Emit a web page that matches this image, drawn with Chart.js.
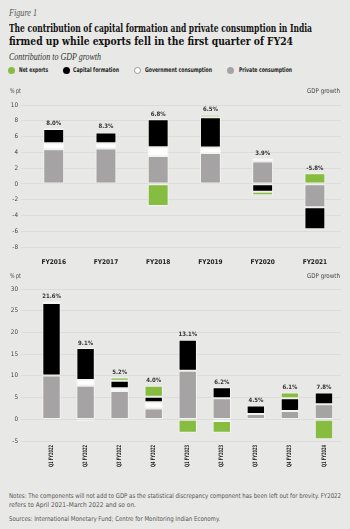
<!DOCTYPE html>
<html>
<head>
<meta charset="utf-8">
<script src="https://cdn.jsdelivr.net/npm/chart.js@4.4.0/dist/chart.umd.min.js"></script>
<style>
  html, body { margin: 0; padding: 0; }
  body {
    width: 350px; height: 529px; overflow: hidden; position: relative;
    background: #e8e8e6; color: #111;
    font-family: "DejaVu Sans Condensed", "DejaVu Sans", sans-serif;
  }
  .abs { position: absolute; white-space: nowrap; transform-origin: 0 50%; }
  .fig { left: 9px; top: 7px; font: italic 9.5px/12px "Liberation Serif", serif; color: #555; }
  .title { left: 9px; font: bold 11px/13px "DejaVu Serif Condensed", "DejaVu Serif", serif; color: #111; }
  .sub { left: 9px; top: 51px; font: italic 9.5px/12px "Liberation Serif", serif; color: #333; }
  .legend { top: 66px; font-size: 6.5px; font-weight: bold; color: #222; line-height: 8px; }
  .dot { position: absolute; top: 66.5px; width: 7px; height: 7px; border-radius: 50%; box-sizing: border-box; }
  .unit { font-size: 6.5px; color: #444; line-height: 8px; }
  .notes { left: 9px; font-size: 6.5px; color: #555; line-height: 8px; }
  canvas { position: absolute; left: 0; }
</style>
</head>
<body>
<div class="abs fig" data-w="28">Figure 1</div>
<div class="abs title" style="top:22px" data-w="303">The contribution of capital formation and private consumption in India</div>
<div class="abs title" style="top:35px" data-w="284">firmed up while exports fell in the first quarter of FY24</div>
<div class="abs sub" data-w="92">Contribution to GDP growth</div>

<div class="dot" style="left:7.5px;background:#86bc40"></div>
<div class="abs legend" style="left:19px" data-w="29">Net exports</div>
<div class="dot" style="left:62.5px;background:#000"></div>
<div class="abs legend" style="left:73px" data-w="46">Capital formation</div>
<div class="dot" style="left:134px;background:#fff;border:1px solid #999"></div>
<div class="abs legend" style="left:145px" data-w="67">Government consumption</div>
<div class="dot" style="left:227px;background:#a5a3a3"></div>
<div class="abs legend" style="left:239px" data-w="53">Private consumption</div>

<canvas id="annualChart" style="top:85px" width="350" height="180"></canvas>
<div class="abs unit" style="left:10px;top:87px" data-w="11">% pt</div>
<div class="abs unit" style="left:307px;top:87px" data-w="33">GDP growth</div>

<canvas id="quarterChart" style="top:268px" width="350" height="213"></canvas>
<div class="abs unit" style="left:10px;top:272px" data-w="11">% pt</div>
<div class="abs unit" style="left:307px;top:272px" data-w="33">GDP growth</div>

<div class="abs notes" style="top:492px" data-w="332">Notes: The components will not add to GDP as the statistical discrepancy component has been left out for brevity. FY2022</div>
<div class="abs notes" style="top:501px" data-w="127">refers to April 2021–March 2022 and so on.</div>
<div class="abs notes" style="top:515px" data-w="211">Sources: International Monetary Fund; Centre for Monitoring Indian Economy.</div>

<script>
const annualLabels = ["FY2016", "FY2017", "FY2018", "FY2019", "FY2020", "FY2021"];
const annualPrivate = [4.4, 4.5, 3.55, 3.9, 2.85, -2.95];
const annualGovt = [0.75, 0.65, 1.1, 0.7, 0.4, 0];
const annualCapital = [1.8, 1.35, 3.55, 3.85, -1.0, -2.8];
const annualNetExports = [0.1, 0.1, -2.8, 0.3, -0.45, 1.35];
const annualGdp = ["8.0%", "8.3%", "6.8%", "6.5%", "3.9%", "-5.8%"];

const quarterLabels = ["Q1 FY2022", "Q2 FY2022", "Q3 FY2022", "Q4 FY2022", "Q1 FY2023", "Q2 FY2023", "Q3 FY2023", "Q4 FY2023", "Q1 FY2024"];
const quarterPrivate = [10.1, 7.7, 6.5, 2.5, 11.2, 4.85, 1.2, 1.9, 3.45];
const quarterGovt = [0, 1.35, 0.65, 1.4, 0, -0.4, 0, 0, 0];
const quarterCapital = [16.7, 7.35, 1.7, 1.3, 7.1, 2.55, 1.95, 2.95, 2.7];
const quarterNetExports = [0.4, -0.4, 0.75, 2.5, -3.1, -2.7, -0.2, 1.3, -4.6];
const quarterGdp = ["21.6%", "9.1%", "5.2%", "4.0%", "13.1%", "6.2%", "4.5%", "6.1%", "7.8%"];

const FONT = "'DejaVu Sans Condensed', 'DejaVu Sans', sans-serif";
const GREEN = "#86bc40";
const GRAY = "#a5a3a3";
const GRID = "#d8d8d6";

// squeeze html text to the width it has in the original
document.querySelectorAll("[data-w]").forEach(el => {
    const w = el.getBoundingClientRect().width;
    el.style.transform = `scaleX(${parseFloat(el.dataset.w) / w})`;
});

// writes the GDP growth label above the positive part of each stack
const gdpLabels = {
    id: "gdpLabels",
    afterDatasetsDraw(chart, args, opts) {
        const ctx = chart.ctx;
        const meta0 = chart.getDatasetMeta(0);
        ctx.save();
        ctx.font = "bold 6px " + FONT;
        ctx.fillStyle = "#333";
        ctx.textAlign = "center";
        ctx.textBaseline = "bottom";
        opts.labels.forEach((txt, i) => {
            let top = 0;
            chart.data.datasets.forEach(ds => { if (ds.data[i] > 0) top += ds.data[i]; });
            const x = meta0.data[i].x;
            const y = chart.scales.y.getPixelForValue(top);
            ctx.fillText(txt, x, y - 2);
        });
        ctx.restore();
    }
};

// vertical, narrow category labels for the quarterly chart
const upLabels = {
    id: "upLabels",
    afterDraw(chart, args, opts) {
        if (!opts.on) return;
        const ctx = chart.ctx;
        const xs = chart.scales.x;
        ctx.save();
        ctx.font = "bold 6px " + FONT;
        ctx.fillStyle = "#222";
        ctx.textAlign = "right";
        ctx.textBaseline = "middle";
        chart.data.labels.forEach((txt, i) => {
            const w = ctx.measureText(txt).width;
            ctx.save();
            ctx.translate(xs.getPixelForValue(i), chart.chartArea.bottom + 4);
            ctx.rotate(-Math.PI / 2);
            ctx.scale(opts.width / w, 1);
            ctx.fillText(txt, 0, 0);
            ctx.restore();
        });
        ctx.restore();
    }
};

function makeDatasets(priv, govt, cap, nx, barPct) {
    const base = { borderColor: "#f4f4f2", borderWidth: 1, borderSkipped: false, barPercentage: barPct, categoryPercentage: 1 };
    return [
        { ...base, label: "Private consumption", data: priv, backgroundColor: GRAY },
        { ...base, label: "Government consumption", data: govt, backgroundColor: "#ffffff" },
        { ...base, label: "Capital formation", data: cap, backgroundColor: "#000000" },
        { ...base, label: "Net exports", data: nx, backgroundColor: GREEN }
    ];
}

function makeChart(id, labels, datasets, gdp, yMin, yMax, yStep, axisW, padTop, xH, rotate) {
    return new Chart(document.getElementById(id), {
        type: "bar",
        data: { labels, datasets },
        options: {
            responsive: false,
            animation: false,
            layout: { padding: { top: padTop, right: 9, left: 0, bottom: 0 } },
            plugins: {
                legend: { display: false },
                tooltip: { enabled: false },
                gdpLabels: { labels: gdp },
                upLabels: { on: rotate, width: 22 }
            },
            scales: {
                x: {
                    stacked: true,
                    grid: { display: false },
                    border: { display: false },
                    afterFit: s => { s.height = xH; },
                    ticks: {
                        display: !rotate,
                        autoSkip: false,
                        maxRotation: 0,
                        padding: 3,
                        color: "#222",
                        font: { family: FONT, size: 6.5, weight: "bold" }
                    }
                },
                y: {
                    stacked: true,
                    min: yMin,
                    max: yMax,
                    afterFit: s => { s.width = axisW; },
                    border: { display: false },
                    grid: { color: GRID, lineWidth: 0.8, tickLength: axisW - 21, drawTicks: true },
                    ticks: {
                        stepSize: yStep,
                        padding: 3,
                        color: "#444",
                        font: { family: FONT, size: 6.3 }
                    }
                }
            }
        },
        plugins: [gdpLabels, upLabels]
    });
}

makeChart("annualChart", annualLabels,
    makeDatasets(annualPrivate, annualGovt, annualCapital, annualNetExports, 0.4),
    annualGdp, -8, 10, 2, 27.6, 20, 18, false);

makeChart("quarterChart", quarterLabels,
    makeDatasets(quarterPrivate, quarterGovt, quarterCapital, quarterNetExports, 0.54),
    quarterGdp, -5, 30, 5, 34.5, 21, 40, true);
</script>
</body>
</html>
